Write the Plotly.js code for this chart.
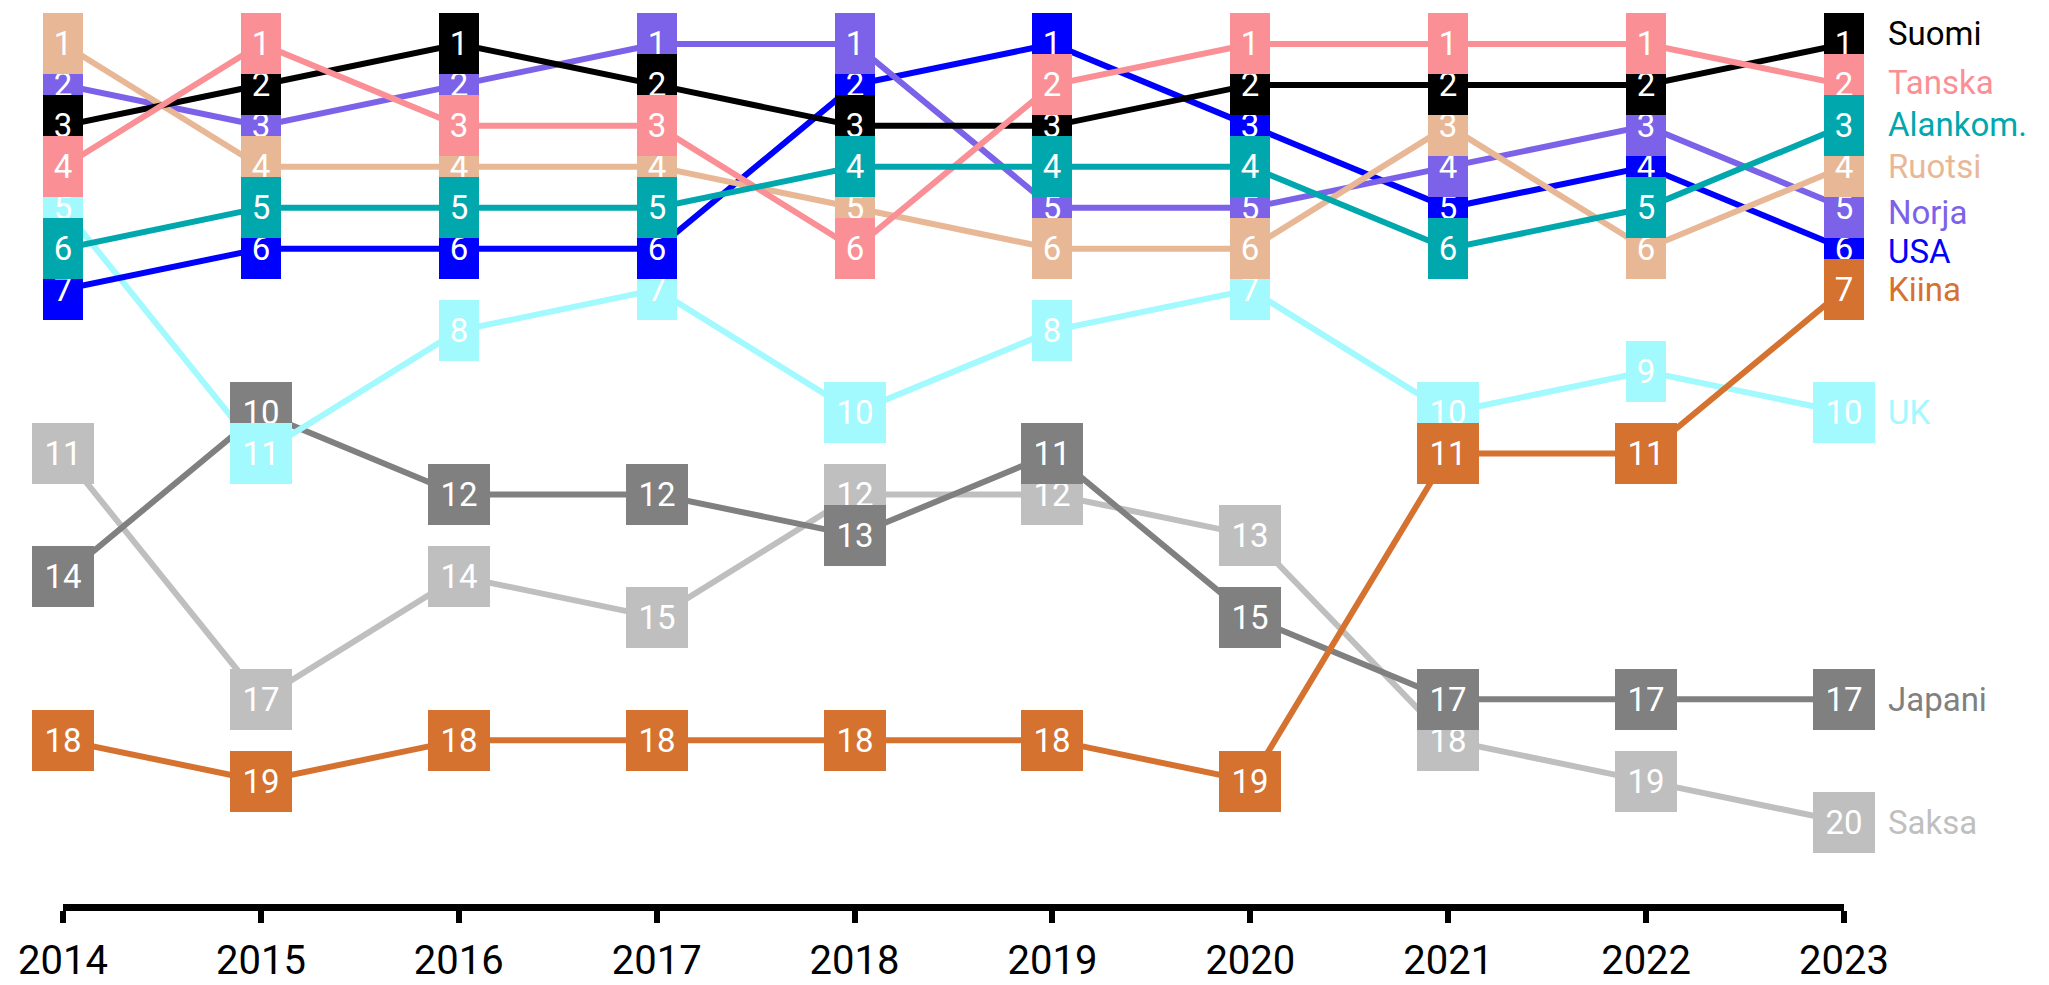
<!DOCTYPE html>
<html>
<head>
<meta charset="utf-8">
<script src="https://cdn.plot.ly/plotly-3.0.1.min.js"></script>
<style>
  html, body { margin: 0; padding: 0; background: #ffffff; }
  #chart { width: 2049px; height: 985px; }
</style>
</head>
<body>
<div id="chart"></div>
<script>
// ---- data (ranks by year) ----
const years   = [2014, 2015, 2016, 2017, 2018, 2019, 2020, 2021, 2022, 2023];
const suomi   = [3, 2, 1, 2, 3, 3, 2, 2, 2, 1];
const tanska  = [4, 1, 3, 3, 6, 2, 1, 1, 1, 2];
const alankom = [6, 5, 5, 5, 4, 4, 4, 6, 5, 3];
const ruotsi  = [1, 4, 4, 4, 5, 6, 6, 3, 6, 4];
const norja   = [2, 3, 2, 1, 1, 5, 5, 4, 3, 5];
const usa     = [7, 6, 6, 6, 2, 1, 3, 5, 4, 6];
const kiina   = [18, 19, 18, 18, 18, 18, 19, 11, 11, 7];
const uk      = [5, 11, 8, 7, 10, 8, 7, 10, 9, 10];
const japani  = [14, 10, 12, 12, 13, 11, 15, 17, 17, 17];
const saksa   = [11, 17, 14, 15, 12, 12, 13, 18, 19, 20];

// drawing order: first = bottom
const series = [
  { name: 'Saksa',    values: saksa,   color: '#BFBFBF', dy: 0 },
  { name: 'Japani',   values: japani,  color: '#808080', dy: 0 },
  { name: 'UK',       values: uk,      color: '#A2F9FE', dy: 0 },
  { name: 'USA',      values: usa,     color: '#0000FF', dy: -3 },
  { name: 'Norja',    values: norja,   color: '#7B62E8', dy: -5 },
  { name: 'Ruotsi',   values: ruotsi,  color: '#E8B896', dy: 0 },
  { name: 'Suomi',    values: suomi,   color: '#000000', dy: 10 },
  { name: 'Tanska',   values: tanska,  color: '#FA8F96', dy: 2 },
  { name: 'Alankom.', values: alankom, color: '#00A8AE', dy: 1 },
  { name: 'Kiina',    values: kiina,   color: '#D57230', dy: 0 }
];

const FONT = 'Roboto, "Noto Sans", "DejaVu Sans", sans-serif';

const traces = series.map(s => ({
  type: 'scatter',
  mode: 'lines',
  x: years,
  y: s.values,
  name: s.name,
  line: { color: s.color, width: 6 },
  cliponaxis: false,
  hoverinfo: 'skip',
  showlegend: false
}));

const annotations = [];
series.forEach(s => {
  s.values.forEach((v, i) => {
    const txt = String(v);
    annotations.push({
      x: years[i], y: v, xref: 'x', yref: 'y',
      text: txt, showarrow: false,
      bgcolor: s.color, borderpad: 0, borderwidth: 0,
      width: txt.length === 1 ? 40 : 62, height: 61,
      align: 'center', valign: 'middle',
      font: { family: FONT, size: 33, color: '#ffffff' }
    });
  });
});
// end labels
series.forEach(s => {
  const last = s.values.length - 1;
  annotations.push({
    x: years[last], y: s.values[last], xref: 'x', yref: 'y',
    text: s.name, showarrow: false,
    xanchor: 'left', yanchor: 'middle',
    xshift: 42, yshift: s.dy,
    font: { family: FONT, size: 33, color: s.color }
  });
});

const layout = {
  width: 2049, height: 985,
  margin: { l: 62.5, r: 204.5, t: 2.5, b: 80.5, pad: 0 },
  paper_bgcolor: '#ffffff',
  plot_bgcolor: '#ffffff',
  showlegend: false,
  hovermode: false,
  xaxis: {
    range: [2014, 2023],
    tickvals: years,
    ticktext: years.map(String),
    showgrid: false, zeroline: false,
    showline: true, linecolor: '#000000', linewidth: 7,
    ticks: 'outside', ticklen: 12, tickwidth: 6, tickcolor: '#000000',
    ticklabelstandoff: 3,
    tickfont: { family: FONT, size: 40, color: '#000000' },
    fixedrange: true
  },
  yaxis: {
    range: [22, 0],
    visible: false,
    showgrid: false, zeroline: false,
    fixedrange: true
  },
  annotations: annotations
};

Plotly.newPlot('chart', traces, layout, { displayModeBar: false, staticPlot: true });
</script>
</body>
</html>
